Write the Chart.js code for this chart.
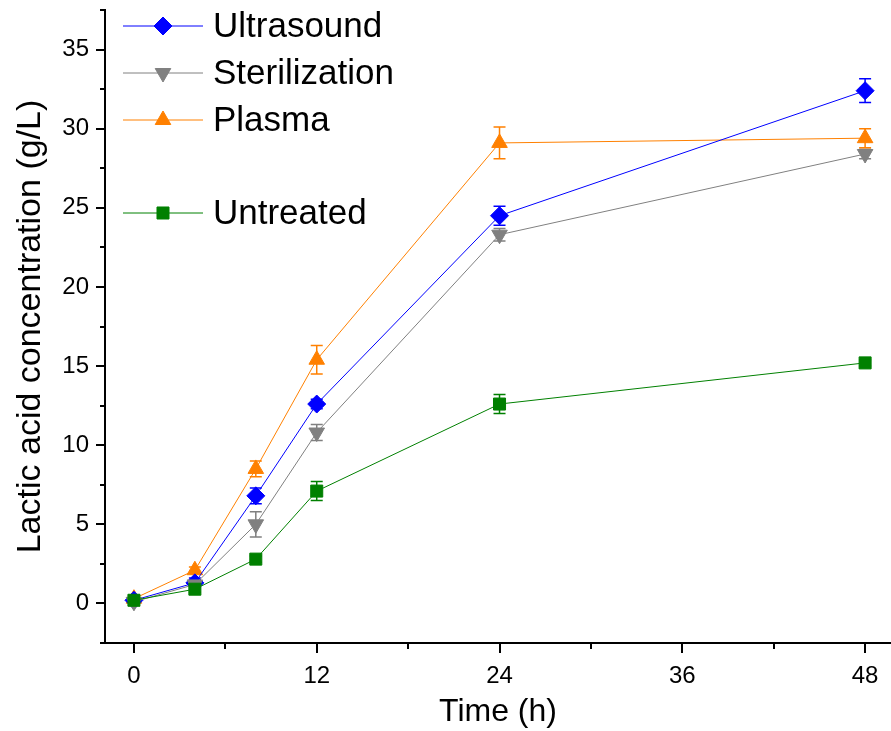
<!DOCTYPE html>
<html>
<head>
<meta charset="utf-8">
<script src="https://cdn.jsdelivr.net/npm/chart.js@4.4.1/dist/chart.umd.min.js"></script>
<style>
  html, body { margin: 0; padding: 0; background: #fff; }
  #wrap { width: 891px; height: 731px; }
</style>
</head>
<body>
<div id="wrap"><canvas id="chart" width="891" height="731"></canvas></div>
<script>
// Sampling times (h)
const hours = [0, 4, 8, 12, 24, 48];

// Lactic acid concentration (g/L) and error bars
const ultrasound      = [0.2, 1.3, 6.8, 12.6, 24.5, 32.4];
const ultrasoundErr   = [0.2, 0.3, 0.5, 0.3, 0.6, 0.75];
const sterilization   = [0.1, 1.2, 5.0, 10.8, 23.3, 28.4];
const sterilizationErr = [0.2, 0.3, 0.8, 0.5, 0.4, 0.3];
const plasma          = [0.3, 2.1, 8.5, 15.4, 29.1, 29.4];
const plasmaErr       = [0.2, 0.2, 0.5, 0.9, 1.0, 0.6];
const untreated       = [0.2, 0.9, 2.8, 7.1, 12.6, 15.2];
const untreatedErr    = [0.2, 0.2, 0.2, 0.6, 0.6, 0.2];

// Axis ticks
const xMajor = [0, 12, 24, 36, 48];
const xMinor = [6, 18, 30, 42];
const yMajor = [0, 5, 10, 15, 20, 25, 30, 35];
const yMinor = [-2.5, 2.5, 7.5, 12.5, 17.5, 22.5, 27.5, 32.5, 37.5];

const FONT = "'Liberation Sans', Arial, sans-serif";

function toPoints(vals) {
    return hours.map((h, i) => ({ x: h, y: vals[i] }));
}

function series(label, vals, errs, color, style, rotation, radius, order) {
    return {
        label: label,
        data: toPoints(vals),
        errors: errs,
        borderColor: color,
        backgroundColor: color,
        borderWidth: 1,
        pointStyle: style,
        rotation: rotation,
        pointRadius: radius,
        pointHoverRadius: radius,
        pointBorderWidth: 1,
        pointBackgroundColor: color,
        pointBorderColor: color,
        tension: 0,
        fill: false,
        clip: false,
        order: order
    };
}

const datasets = [
    series('Ultrasound', ultrasound, ultrasoundErr, '#0000ff', 'rectRot', 0, 9, 3),
    series('Sterilization', sterilization, sterilizationErr, '#808080', 'triangle', 180, 9, 2),
    series('Plasma', plasma, plasmaErr, '#ff8000', 'triangle', 0, 9, 4),
    series('Untreated', untreated, untreatedErr, '#008000', 'rect', 0, 8.5, 1)
];

// error bars drawn under the markers
const errorBars = {
    id: 'errorBars',
    beforeDatasetsDraw(chart) {
        const ctx = chart.ctx;
        const x = chart.scales.x, y = chart.scales.y;
        ctx.save();
        chart.data.datasets.forEach(ds => {
            ctx.strokeStyle = ds.borderColor;
            ctx.lineWidth = 1.5;
            ds.data.forEach((p, j) => {
                const e = ds.errors[j];
                const px = x.getPixelForValue(p.x);
                const top = y.getPixelForValue(p.y + e);
                const bot = y.getPixelForValue(p.y - e);
                ctx.beginPath();
                ctx.moveTo(px, top); ctx.lineTo(px, bot);
                ctx.moveTo(px - 6, top); ctx.lineTo(px + 6, top);
                ctx.moveTo(px - 6, bot); ctx.lineTo(px + 6, bot);
                ctx.stroke();
            });
        });
        ctx.restore();
    }
};

// outward tick marks, major and minor
const tickMarks = {
    id: 'tickMarks',
    afterDraw(chart) {
        const ctx = chart.ctx;
        const x = chart.scales.x, y = chart.scales.y;
        const area = chart.chartArea;
        ctx.save();
        ctx.strokeStyle = '#000';
        ctx.lineWidth = 2;
        ctx.beginPath();
        xMajor.forEach(v => { const p = Math.round(x.getPixelForValue(v)); ctx.moveTo(p, area.bottom); ctx.lineTo(p, area.bottom + 10); });
        xMinor.forEach(v => { const p = Math.round(x.getPixelForValue(v)); ctx.moveTo(p, area.bottom); ctx.lineTo(p, area.bottom + 6); });
        yMajor.forEach(v => { const p = Math.round(y.getPixelForValue(v)); ctx.moveTo(area.left, p); ctx.lineTo(area.left - 9, p); });
        yMinor.forEach(v => { const p = Math.round(y.getPixelForValue(v)); ctx.moveTo(area.left, p); ctx.lineTo(area.left - 5, p); });
        ctx.stroke();
        ctx.restore();
    }
};

// legend in the upper left, with a blank row before Untreated
const legendBox = {
    id: 'legendBox',
    afterDraw(chart) {
        const ctx = chart.ctx;
        const rows = [26, 73, 120, 213];
        ctx.save();
        ctx.font = '35px ' + FONT;
        ctx.textBaseline = 'middle';
        ctx.textAlign = 'left';
        chart.data.datasets.forEach((ds, i) => {
            const ly = rows[i];
            ctx.strokeStyle = ds.borderColor;
            ctx.lineWidth = 1;
            ctx.beginPath();
            ctx.moveTo(123, ly); ctx.lineTo(203, ly);
            ctx.stroke();
            ctx.fillStyle = ds.backgroundColor;
            Chart.helpers.drawPoint(ctx, {
                pointStyle: ds.pointStyle,
                rotation: ds.rotation,
                radius: ds.pointRadius,
                borderWidth: 1
            }, 163, ly);
            ctx.fillStyle = '#000';
            ctx.fillText(ds.label, 213, ly + 1);
        });
        ctx.restore();
    }
};

const ctx = document.getElementById('chart').getContext('2d');
new Chart(ctx, {
    type: 'line',
    data: { datasets: datasets },
    plugins: [errorBars, tickMarks, legendBox],
    options: {
        responsive: false,
        animation: false,
        devicePixelRatio: 1,
        layout: { autoPadding: false, padding: { top: 10, right: 0, left: 0, bottom: 0 } },
        plugins: {
            legend: { display: false },
            tooltip: { enabled: false }
        },
        scales: {
            x: {
                type: 'linear',
                min: -1.9,
                max: 49.7,
                afterBuildTicks: s => { s.ticks = xMajor.map(v => ({ value: v })); },
                afterFit: s => { s.height = 88; s.paddingLeft = 0; s.paddingRight = 0; },
                grid: { display: false },
                border: { display: true, color: '#000', width: 2 },
                ticks: {
                    color: '#000',
                    padding: 11,
                    maxRotation: 0,
                    font: { family: FONT, size: 24 }
                },
                title: {
                    display: true,
                    text: 'Time (h)',
                    color: '#000',
                    padding: { top: 0, bottom: 0 },
                    font: { family: FONT, size: 32 }
                }
            },
            y: {
                type: 'linear',
                min: -2.5,
                max: 37.5,
                afterBuildTicks: s => { s.ticks = yMajor.map(v => ({ value: v })); },
                afterFit: s => { s.width = 105; s.paddingTop = 0; s.paddingBottom = 0; },
                grid: { display: false },
                border: { display: true, color: '#000', width: 2 },
                ticks: {
                    color: '#000',
                    padding: 8,
                    font: { family: FONT, size: 24 }
                },
                title: {
                    display: true,
                    text: 'Lactic acid concentration (g/L)',
                    color: '#000',
                    padding: { top: 10, bottom: 0 },
                    font: { family: FONT, size: 34 }
                }
            }
        }
    }
});
</script>
</body>
</html>
